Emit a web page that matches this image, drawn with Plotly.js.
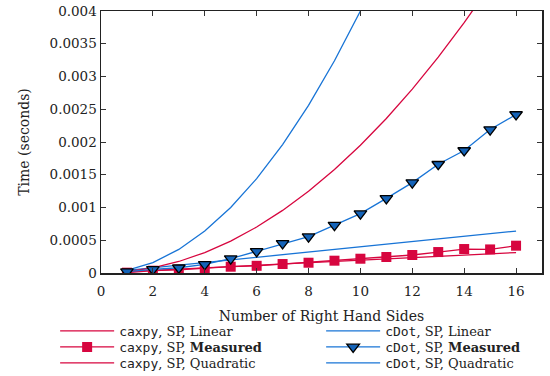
<!DOCTYPE html>
<html><head><meta charset="utf-8">
<script src="https://cdn.plot.ly/plotly-3.0.1.min.js"></script>
<style>html,body{margin:0;padding:0;background:#fff;}#chart{width:550px;height:376px;}</style>
</head><body><div id="chart"></div>
<script>
const nrhs = [1,2,3,4,5,6,7,8,9,10,11,12,13,14,15,16];
const caxpyLinear = [0.0000195,0.000039,0.0000585,0.000078,0.0000975,0.000117,0.0001365,0.000156,0.0001755,0.000195,0.0002145,0.000234,0.0002535,0.000273,0.0002925,0.000312];
const caxpyMeasured = [0.000005,0.000035,0.00005,0.000076,0.000096,0.00011,0.000137,0.000157,0.000188,0.000218,0.000244,0.000275,0.00032,0.000366,0.00036,0.000417];
const caxpyQuadratic = [0.0000195,0.000078,0.0001755,0.000312,0.0004875,0.000702,0.0009555,0.001248,0.0015795,0.00195,0.0023595,0.002808,0.0032955,0.003822,0.0043875,0.004992];
const cdotLinear = [0.00004,0.00008,0.00012,0.00016,0.0002,0.00024,0.00028,0.00032,0.00036,0.0004,0.00044,0.00048,0.00052,0.00056,0.0006,0.00064];
const cdotMeasured = [0.00002,0.000056,0.00008,0.000133,0.000218,0.00033,0.000453,0.000555,0.00073,0.000906,0.00114,0.00138,0.00166,0.00187,0.00219,0.00242];
const cdotQuadratic = [0.00004,0.00016,0.00036,0.00064,0.001,0.00144,0.00196,0.00256,0.00324,0.004,0.00484,0.00576,0.00676,0.00784,0.009,0.01024];
const xTicks = [0,2,4,6,8,10,12,14,16];
const yTicks = [0,0.0005,0.001,0.0015,0.002,0.0025,0.003,0.0035,0.004];
const yTickText = ['0','0.0005','0.001','0.0015','0.002','0.0025','0.003','0.0035','0.004'];

const RED = '#d7063f', BLUE = '#1874d6', BLUEFILL = '#1463b8';
const mono = s => '<span style="font-family:DejaVu Sans Mono">' + s + '</span>';
const W1 = 197, W2 = 150;

const traces = [
  {x:nrhs, y:caxpyLinear, name: mono('caxpy') + ', SP, Linear', mode:'lines', line:{color:RED,width:1.3}, legend:'legend', legendwidth:W1},
  {x:nrhs, y:cdotLinear, name: mono('cDot') + ', SP, Linear', mode:'lines', line:{color:BLUE,width:1.3}, legend:'legend', legendwidth:W2},
  {x:nrhs, y:caxpyQuadratic, name: mono('caxpy') + ', SP, Quadratic', mode:'lines', line:{color:RED,width:1.3}, legend:'legend3', legendwidth:W1},
  {x:nrhs, y:cdotQuadratic, name: mono('cDot') + ', SP, Quadratic', mode:'lines', line:{color:BLUE,width:1.3}, legend:'legend3', legendwidth:W2},
  {x:nrhs, y:caxpyMeasured, name: mono('caxpy') + ', SP, <b>Measured</b>', mode:'lines+markers', line:{color:RED,width:1.3}, marker:{symbol:'square',size:10,color:RED}, legend:'legend2', legendwidth:W1},
  {x:nrhs, y:cdotMeasured, name: mono('cDot') + ', SP, <b>Measured</b>', mode:'lines+markers', line:{color:BLUE,width:1.3}, marker:{symbol:'triangle-down',size:11,color:BLUEFILL,line:{color:'#000',width:1.3}}, legend:'legend2', legendwidth:W2}
];

const legBase = {orientation:'h', x:-0.104, xanchor:'left', yanchor:'middle', itemwidth:54, entrywidthmode:'pixels', font:{size:13}, tracegroupgap:0, bgcolor:'rgba(0,0,0,0)'};
const layout = {
  width:550, height:376,
  margin:{l:101, r:8, t:11, b:103, autoexpand:false},
  paper_bgcolor:'#fff', plot_bgcolor:'#fff',
  font: {family:'DejaVu Serif, serif', size:13.5, color:'#222'},
  showlegend:true,
  xaxis:{range:[0,17], tickvals:xTicks, ticks:'inside', ticklen:5, tickcolor:'#333', showline:true, linecolor:'#222', linewidth:1.5, mirror:'ticks', showgrid:false, zeroline:false, ticklabelstandoff:5,
    title:{text:'Number of Right Hand Sides', font:{size:14}, standoff:13}, tickfont:{size:13.5}},
  yaxis:{range:[0,0.004], tickvals:yTicks, ticktext:yTickText, ticks:'inside', ticklen:5, tickcolor:'#333', showline:true, linecolor:'#222', linewidth:1.5, mirror:'ticks', showgrid:false, zeroline:false,
    title:{text:'Time (seconds)', font:{size:14}, standoff:16}, tickfont:{size:13.5}},
  legend: Object.assign({}, legBase, {y:-0.2214}),
  legend2: Object.assign({}, legBase, {y:-0.2824}),
  legend3: Object.assign({}, legBase, {y:-0.3435})
};
Plotly.newPlot('chart', traces, layout, {displayModeBar:false, staticPlot:true});
</script></body></html>
